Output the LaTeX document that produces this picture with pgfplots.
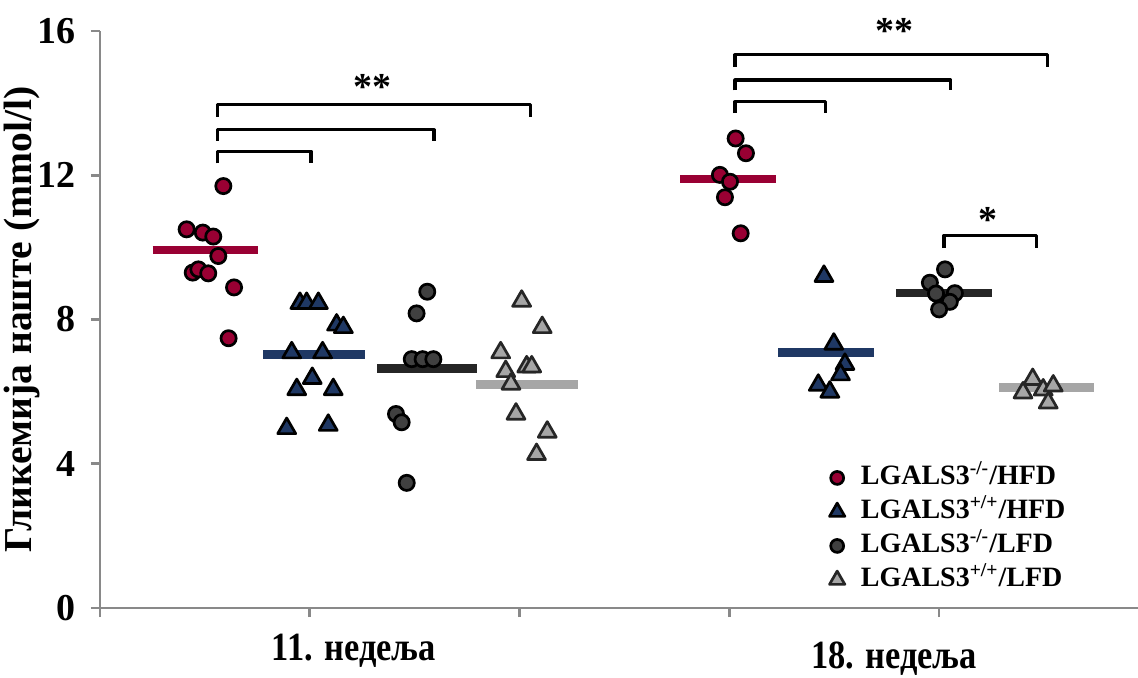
\documentclass[border=0pt]{standalone}
\usepackage{fontspec}
\setmainfont{Liberation Serif}
\usepackage{graphicx}
\usepackage{pgfplots}
\pgfplotsset{compat=1.18}

\definecolor{cRed}{RGB}{153,0,51}
\definecolor{cBlue}{RGB}{31,56,100}
\definecolor{cDark}{RGB}{64,64,64}
\definecolor{cDarkLine}{RGB}{38,38,38}
\definecolor{cLight}{RGB}{166,166,166}
\definecolor{cAxis}{RGB}{137,137,137}

\begin{document}
\begin{tikzpicture}
\begin{axis}[name=ax, scale only axis, width=519pt, height=288.5pt,
 xmin=0, xmax=4.948, ymin=0, ymax=16,
 axis x line*=bottom, axis y line*=left,
 axis line style={cAxis, line width=1.3pt, -},
 xtick={0,1,2,3,4}, xticklabels={}, ytick={0,4,8,12,16},
 tick style={cAxis, line width=1.3pt},
 tick align=outside, major tick length=4.5pt,
 clip=false,
 /pgf/number format/assume math mode=true,
 yticklabel style={font=\bfseries\fontsize{19}{19}\selectfont, xshift=-4pt},
 ylabel={Гликемија наште (mmol/l)},
 ylabel style={font=\bfseries\fontsize{19.8}{19.8}\selectfont, at={(axis description cs:-0.075,0.5)}, anchor=center},
 legend style={at={(axis cs:3.447,4.20)}, anchor=north west, draw=none, fill=none,
   font=\bfseries\fontsize{14}{14}\selectfont,
   nodes={text height=10pt, text depth=3pt}, row sep=0pt,
   /tikz/every odd column/.append style={column sep=6pt}},
 legend cell align=left,
 legend image post style={/tikz/every mark/.append style={scale=0.85}},
]
% LGALS3-/-/HFD
\addplot[only marks, mark=*, mark size=3.8pt, mark options={fill=cRed, draw=black, line width=1.35pt}] coordinates {
 (0.588,11.70) (0.413,10.50) (0.490,10.41) (0.540,10.30) (0.564,9.76) (0.442,9.30) (0.469,9.39) (0.516,9.28) (0.639,8.89) (0.613,7.48)
 (3.030,13.02) (3.079,12.61) (2.955,12.01) (3.003,11.82) (2.979,11.39) (3.054,10.39)};
% LGALS3+/+/HFD
\addplot[only marks, mark=triangle*, mark size=5.2pt, mark options={fill=cBlue, draw=black, line width=1.35pt, line join=round}] coordinates {
 (0.953,8.45) (0.985,8.45) (1.041,8.45) (1.128,7.85) (1.160,7.78) (0.914,7.08) (1.061,7.08) (1.012,6.37) (0.938,6.06) (1.112,6.06) (0.890,4.98) (1.088,5.07)
 (3.451,9.20) (3.498,7.32) (3.551,6.76) (3.530,6.47) (3.424,6.18) (3.479,5.99)};
% LGALS3-/-/LFD
\addplot[only marks, mark=*, mark size=3.8pt, mark options={fill=cDark, draw=black, line width=1.35pt}] coordinates {
 (1.560,8.77) (1.509,8.17) (1.486,6.90) (1.538,6.90) (1.589,6.90) (1.411,5.38) (1.438,5.15) (1.462,3.47)
 (4.028,9.39) (3.956,9.02) (3.985,8.72) (4.075,8.73) (4.051,8.49) (4.000,8.28)};
% LGALS3+/+/LFD
\addplot[only marks, mark=triangle*, mark size=5.2pt, mark options={fill=cLight, draw=cDarkLine, line width=1.35pt, line join=round}] coordinates {
 (2.010,8.51) (2.108,7.78) (1.910,7.08) (1.934,6.56) (2.034,6.69) (2.058,6.69) (1.959,6.21) (1.983,5.38) (2.132,4.88) (2.081,4.26)
 (4.446,6.34) (4.496,6.05) (4.544,6.16) (4.400,5.97) (4.520,5.69)};
\legend{LGALS3\textsuperscript{-/-}/HFD, LGALS3\textsuperscript{+/+}/HFD, LGALS3\textsuperscript{-/-}/LFD, LGALS3\textsuperscript{+/+}/LFD}
% medians
\addplot[cRed, line width=4.2pt, forget plot] coordinates {(0.251,9.92) (0.755,9.92)};
\addplot[cBlue, line width=4.2pt, forget plot] coordinates {(0.778,7.03) (1.263,7.03)};
\addplot[cDarkLine, line width=4.2pt, forget plot] coordinates {(1.322,6.64) (1.798,6.64)};
\addplot[cLight, line width=4.2pt, forget plot] coordinates {(1.792,6.20) (2.278,6.20)};
\addplot[cRed, line width=4.2pt, forget plot] coordinates {(2.765,11.90) (3.222,11.90)};
\addplot[cBlue, line width=4.2pt, forget plot] coordinates {(3.233,7.09) (3.689,7.09)};
\addplot[cDarkLine, line width=4.2pt, forget plot] coordinates {(3.794,8.73) (4.253,8.73)};
\addplot[cLight, line width=4.2pt, forget plot] coordinates {(4.286,6.11) (4.738,6.11)};
% brackets
\addplot[black, line width=1.55pt, line join=round, forget plot] coordinates {(0.561,12.33)(0.561,12.67)(1.006,12.67)(1.006,12.33)};
\addplot[black, line width=1.55pt, line join=round, forget plot] coordinates {(0.561,12.96)(0.561,13.26)(1.592,13.26)(1.592,12.96)};
\addplot[black, line width=1.55pt, line join=round, forget plot] coordinates {(0.561,13.62)(0.561,13.97)(2.050,13.97)(2.050,13.62)};
\addplot[black, line width=1.55pt, line join=round, forget plot] coordinates {(3.027,13.72)(3.027,14.04)(3.460,14.04)(3.460,13.72)};
\addplot[black, line width=1.55pt, line join=round, forget plot] coordinates {(3.027,14.35)(3.027,14.64)(4.055,14.64)(4.055,14.35)};
\addplot[black, line width=1.55pt, line join=round, forget plot] coordinates {(3.027,15.01)(3.027,15.34)(4.517,15.34)(4.517,15.01)};
\addplot[black, line width=1.55pt, line join=round, forget plot] coordinates {(4.023,9.98)(4.023,10.33)(4.465,10.33)(4.465,9.98)};
% asterisks
\node[font=\bfseries\fontsize{19}{19}\selectfont, yshift=-3.5pt] at (axis cs:1.298,14.64) {**};
\node[font=\bfseries\fontsize{19}{19}\selectfont, yshift=-3.5pt] at (axis cs:3.786,16.2) {**};
\node[font=\bfseries\fontsize{19}{19}\selectfont, yshift=-3.5pt] at (axis cs:4.234,10.95) {*};
% group labels
\node[font=\bfseries\fontsize{20}{20}\selectfont, yshift=-21.5pt] at (axis cs:1.21,0) {\scalebox{0.86}[1]{11. недеља}};
\node[font=\bfseries\fontsize{20}{20}\selectfont, yshift=-25.5pt] at (axis cs:3.785,0) {\scalebox{0.86}[1]{18. недеља}};
\end{axis}
\pgfresetboundingbox
\path[use as bounding box] ([shift={(-50pt,-35pt)}]ax.south west) rectangle ([shift={(0pt,304pt)}]ax.south east);
\end{tikzpicture}
\end{document}
